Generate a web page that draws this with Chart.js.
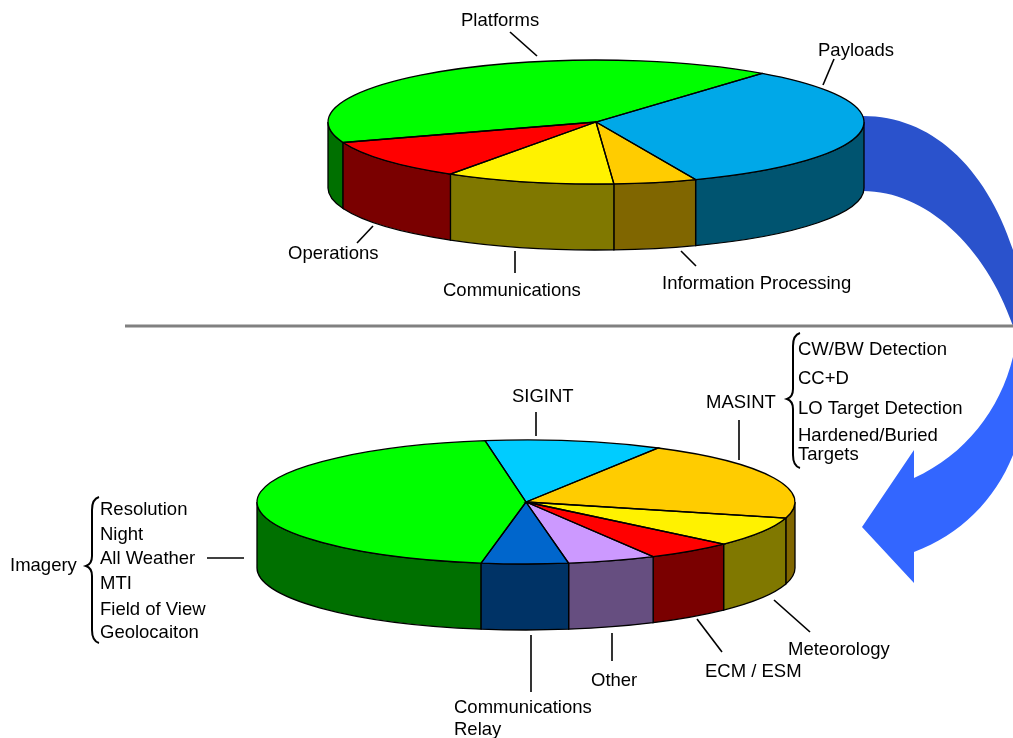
<!DOCTYPE html>
<html lang="en">
<head>
    <meta charset="UTF-8">
    <title>Platforms and payloads pies</title>
    <script src="https://cdn.jsdelivr.net/npm/chart.js"></script>
    <style>
        body { margin: 0; background: #fff; }
        canvas { position: absolute; left: 0; top: 0; }
    </style>
</head>
<body>
    <canvas id="topPie" width="1013" height="738"></canvas>
    <canvas id="bottomPie" width="1013" height="738"></canvas>

    <script>
        // Upper pie (shares, in percent of the circle)
        const topCategories = ['Platforms', 'Payloads', 'Information Processing', 'Communications', 'Operations'];
        const topValues = [41.0, 33.3, 5.0, 10.2, 10.5];
        const topColors = ['#00ff00', '#00a8e8', '#ffcc00', '#fff200', '#ff0000'];
        const topSideColors = ['#007000', '#005470', '#806600', '#807800', '#7a0000'];

        // Lower pie
        const bottomCategories = ['Imagery', 'SIGINT', 'MASINT', 'Meteorology', 'ECM / ESM', 'Other', 'Communications Relay'];
        const bottomValues = [44.9, 10.6, 21.0, 7.7, 5.3, 5.3, 5.2];
        const bottomColors = ['#00ff00', '#00ccff', '#ffcc00', '#fff200', '#ff0000', '#cc99ff', '#0066cc'];
        const bottomSideColors = ['#007000', '#00667f', '#806600', '#807800', '#7a0000', '#664e80', '#003366'];

        // Sub items next to the lower pie
        const masintItems = ['CW/BW Detection', 'CC+D', 'LO Target Detection', 'Hardened/Buried', 'Targets'];
        const imageryItems = ['Resolution', 'Night', 'All Weather', 'MTI', 'Field of View', 'Geolocaiton'];

        // Where the texts go: text, left x, baseline y
        const textSpots = [
            [topCategories[0], 461, 26], [topCategories[1], 818, 56],
            ['Information Processing', 662, 289], [topCategories[3], 443, 296], [topCategories[4], 288, 259],
            [bottomCategories[1], 512, 402], [bottomCategories[2], 706, 408], [bottomCategories[0], 10, 571],
            [bottomCategories[3], 788, 655], [bottomCategories[4], 705, 677], [bottomCategories[5], 591, 686],
            ['Communications', 454, 713], ['Relay', 454, 735],
            [masintItems[0], 798, 355], [masintItems[1], 798, 384], [masintItems[2], 798, 414],
            [masintItems[3], 798, 441], [masintItems[4], 798, 460],
            [imageryItems[0], 100, 515], [imageryItems[1], 100, 540], [imageryItems[2], 100, 564],
            [imageryItems[3], 100, 589], [imageryItems[4], 100, 615], [imageryItems[5], 100, 638]
        ];

        // Leader lines: x1, y1, x2, y2
        const leaders = [
            [510, 32, 537, 56], [834, 59, 823, 85], [373, 226, 357, 243], [515, 251, 515, 273], [681, 251, 696, 266],
            [536, 412, 536, 436], [739, 420, 739, 460], [207, 558, 244, 558], [531, 635, 531, 692],
            [612, 633, 612, 661], [697, 619, 722, 652], [774, 600, 810, 632]
        ];

        function drawArrow(ctx) {
            // upper part, runs behind the top pie and off the right side
            ctx.fillStyle = '#2a52cc';
            ctx.beginPath();
            ctx.moveTo(860, 116);
            ctx.lineTo(863, 116);
            ctx.bezierCurveTo(930, 116, 985, 165, 1013, 250);
            ctx.lineTo(1013, 326);
            ctx.bezierCurveTo(985, 245, 925, 191, 863, 191);
            ctx.lineTo(860, 191);
            ctx.closePath();
            ctx.fill();

            // lower part with the head
            ctx.fillStyle = '#3366ff';
            ctx.beginPath();
            ctx.moveTo(1013, 357);
            ctx.bezierCurveTo(1000, 410, 965, 455, 914, 478);
            ctx.lineTo(914, 450);
            ctx.lineTo(862, 527);
            ctx.lineTo(914, 583);
            ctx.lineTo(914, 552);
            ctx.bezierCurveTo(960, 535, 995, 500, 1013, 455);
            ctx.closePath();
            ctx.fill();

            // separator
            ctx.strokeStyle = '#808080';
            ctx.lineWidth = 3;
            ctx.beginPath();
            ctx.moveTo(125, 326);
            ctx.lineTo(1013, 326);
            ctx.stroke();
        }

        function drawBrace(ctx, x, top, tip, bottom) {
            ctx.beginPath();
            ctx.moveTo(x + 7, top);
            ctx.quadraticCurveTo(x, top + 2, x, top + 13);
            ctx.lineTo(x, tip - 10);
            ctx.quadraticCurveTo(x, tip - 2, x - 6, tip);
            ctx.quadraticCurveTo(x, tip + 2, x, tip + 10);
            ctx.lineTo(x, bottom - 13);
            ctx.quadraticCurveTo(x, bottom - 2, x + 7, bottom);
            ctx.stroke();
        }

        // Squashes the flat pie to an ellipse and adds the wall below it
        const pie3d = {
            id: 'pie3d',
            beforeDraw(chart, args, opts) {
                if (opts.notes) drawArrow(chart.ctx);
            },
            beforeDatasetsDraw(chart, args, opts) {
                const ctx = chart.ctx;
                const arcs = chart.getDatasetMeta(0).data;
                const rx = arcs[0].outerRadius;

                // wall, only the front half of the circle shows
                arcs.forEach((arc, i) => {
                    [0, 2 * Math.PI].forEach(turn => {
                        const from = Math.max(arc.startAngle, turn);
                        const to = Math.min(arc.endAngle, turn + Math.PI);
                        if (to <= from) return;
                        ctx.beginPath();
                        ctx.ellipse(opts.cx, opts.cy, rx, opts.ry, 0, from, to);
                        ctx.ellipse(opts.cx, opts.cy + opts.depth, rx, opts.ry, 0, to, from, true);
                        ctx.closePath();
                        ctx.fillStyle = opts.sideColors[i];
                        ctx.strokeStyle = '#000';
                        ctx.lineWidth = 1.3;
                        ctx.fill();
                        ctx.stroke();
                    });
                });

                ctx.save();
                ctx.translate(opts.cx, opts.cy);
                ctx.scale(1, opts.ry / rx);
                ctx.translate(-arcs[0].x, -arcs[0].y);
            },
            afterDatasetsDraw(chart, args, opts) {
                const ctx = chart.ctx;
                ctx.restore();

                // outlines go here so the scale does not squash the line width
                const arcs = chart.getDatasetMeta(0).data;
                ctx.strokeStyle = '#000';
                ctx.lineWidth = 1.3;
                arcs.forEach(arc => {
                    ctx.beginPath();
                    ctx.moveTo(opts.cx, opts.cy);
                    ctx.ellipse(opts.cx, opts.cy, arc.outerRadius, opts.ry, 0, arc.startAngle, arc.endAngle);
                    ctx.closePath();
                    ctx.stroke();
                });

                if (opts.notes) {
                    ctx.fillStyle = '#000';
                    ctx.font = '18.5px "Liberation Sans", Arial, sans-serif';
                    ctx.textBaseline = 'alphabetic';
                    textSpots.forEach(t => ctx.fillText(t[0], t[1], t[2]));
                    ctx.lineWidth = 1.6;
                    leaders.forEach(l => {
                        ctx.beginPath();
                        ctx.moveTo(l[0], l[1]);
                        ctx.lineTo(l[2], l[3]);
                        ctx.stroke();
                    });
                    ctx.lineWidth = 2;
                    drawBrace(ctx, 793, 333, 399, 468);
                    drawBrace(ctx, 92, 497, 566, 643);
                }
            }
        };

        function makePie(id, labels, values, colors, rotation, radius, settings) {
            return new Chart(document.getElementById(id), {
                type: 'pie',
                data: {
                    labels: labels,
                    datasets: [{
                        data: values,
                        backgroundColor: colors,
                        borderWidth: 0,
                        radius: radius,
                        clip: false
                    }]
                },
                options: {
                    responsive: false,
                    animation: false,
                    rotation: rotation,
                    events: [],
                    plugins: {
                        legend: { display: false },
                        tooltip: { enabled: false },
                        pie3d: settings
                    }
                },
                plugins: [pie3d]
            });
        }

        makePie('topPie', topCategories, topValues, topColors, 250.7, 268,
            { cx: 596, cy: 122, ry: 62, depth: 66, sideColors: topSideColors, notes: true });
        makePie('bottomPie', bottomCategories, bottomValues, bottomColors, 189.6, 269,
            { cx: 526, cy: 502, ry: 62, depth: 66, sideColors: bottomSideColors, notes: false });
    </script>
</body>
</html>
